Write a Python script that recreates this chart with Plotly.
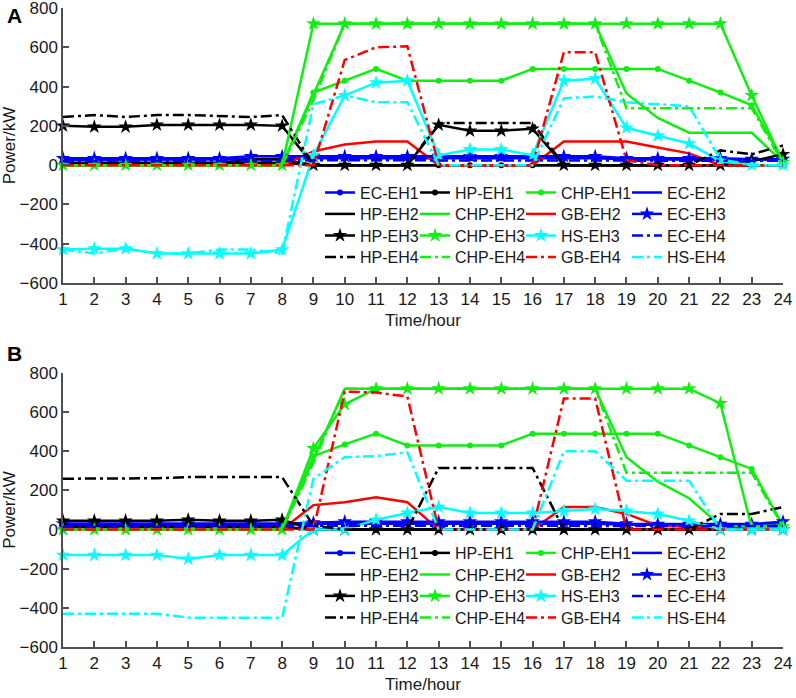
import plotly.graph_objects as go

hours = list(range(1, 25))

names = ['EC-EH1', 'HP-EH1', 'CHP-EH1', 'EC-EH2',
         'HP-EH2', 'CHP-EH2', 'GB-EH2', 'EC-EH3',
         'HP-EH3', 'CHP-EH3', 'HS-EH3', 'EC-EH4',
         'HP-EH4', 'CHP-EH4', 'GB-EH4', 'HS-EH4']

# ---- panel A (kW) ----
ec_eh1_a = [30, 30, 30, 30, 30, 30, 32, 32, 35, 35, 35, 35, 35, 35, 35, 35, 35, 35, 30, 30, 28, 28, 28, 28]
hp_eh1_a = [12, 12, 12, 12, 12, 12, 12, 12, 0, 0, 0, 0, 0, 0, 0, 0, 0, 0, 0, 0, 0, 0, 0, 0]
chp_eh1_a = [0, 0, 0, 0, 0, 0, 0, 0, 370, 430, 490, 430, 430, 430, 430, 490, 490, 490, 490, 490, 430, 370, 305, 20]
ec_eh2_a = [28, 28, 28, 28, 28, 28, 30, 30, 40, 40, 40, 40, 40, 40, 40, 40, 40, 40, 30, 30, 30, 30, 30, 30]
hp_eh2_a = [10, 10, 10, 10, 10, 10, 30, 30, 0, 0, 0, 0, 0, 0, 0, 0, 0, 0, 0, 0, 0, 0, 0, 0]
chp_eh2_a = [0, 0, 0, 0, 0, 0, 0, 0, 360, 720, 720, 720, 720, 720, 720, 720, 720, 720, 365, 240, 165, 165, 165, 15]
gb_eh2_a = [0, 0, 0, 0, 0, 0, 0, 0, 70, 105, 120, 120, 0, 0, 0, 0, 120, 120, 120, 90, 60, 0, 0, 0]
ec_eh3_a = [35, 35, 35, 35, 35, 35, 45, 45, 45, 45, 45, 45, 45, 45, 45, 45, 45, 45, 35, 35, 35, 35, 30, 30]
hp_eh3_a = [200, 195, 195, 205, 205, 205, 205, 200, 0, 0, 0, 0, 205, 175, 175, 185, 0, 0, 0, 0, 0, 0, 20, 55]
chp_eh3_a = [0, 0, 0, 0, 0, 0, 0, 0, 720, 720, 720, 720, 720, 720, 720, 720, 720, 720, 720, 720, 720, 720, 355, 15]
hs_eh3_a = [-430, -425, -425, -450, -450, -450, -450, -430, 50, 355, 420, 430, 50, 80, 80, 50, 430, 440, 190, 150, 110, 20, 0, 0]
ec_eh4_a = [20, 20, 20, 20, 20, 20, 22, 22, 25, 25, 25, 25, 25, 25, 25, 25, 25, 25, 22, 22, 22, 22, 22, 22]
hp_eh4_a = [245, 255, 245, 255, 255, 250, 245, 255, 0, 0, 0, 0, 215, 215, 215, 215, 0, 0, 0, 0, 0, 75, 55, 100]
chp_eh4_a = [0, 0, 0, 0, 0, 0, 0, 0, 330, 720, 720, 720, 720, 720, 720, 720, 720, 720, 290, 290, 290, 290, 290, 10]
gb_eh4_a = [0, 0, 0, 0, 0, 0, 0, 0, 0, 535, 600, 605, 0, 0, 0, 0, 575, 575, 25, 0, 0, 0, 0, 0]
hs_eh4_a = [-430, -450, -425, -450, -450, -430, -430, -450, 310, 355, 320, 320, 0, 0, 0, 0, 340, 350, 320, 310, 300, 30, 0, 0]

# ---- panel B ----
ec_eh1_b = [25, 25, 25, 25, 25, 25, 25, 25, 30, 30, 30, 30, 30, 30, 30, 30, 30, 30, 25, 25, 25, 25, 25, 25]
hp_eh1_b = [10, 10, 10, 10, 10, 10, 10, 10, 0, 0, 0, 0, 0, 0, 0, 0, 0, 0, 0, 0, 0, 0, 0, 0]
chp_eh1_b = [0, 0, 0, 0, 0, 0, 0, 0, 375, 435, 490, 430, 430, 430, 430, 490, 490, 490, 490, 490, 430, 370, 310, 20]
ec_eh2_b = [30, 30, 30, 30, 30, 30, 30, 30, 35, 35, 35, 35, 35, 35, 35, 35, 35, 35, 25, 25, 25, 25, 25, 25]
hp_eh2_b = [15, 15, 15, 15, 15, 15, 15, 15, 0, 0, 0, 0, 0, 0, 0, 0, 0, 0, 0, 0, 0, 0, 0, 0]
chp_eh2_b = [0, 0, 0, 0, 0, 0, 0, 0, 360, 720, 720, 720, 720, 720, 720, 720, 720, 720, 370, 245, 160, 20, 20, 20]
gb_eh2_b = [0, 0, 0, 0, 0, 0, 0, 0, 125, 140, 165, 140, 0, 0, 0, 0, 115, 115, 80, 20, 15, 10, 5, 0]
ec_eh3_b = [30, 30, 30, 30, 30, 30, 30, 30, 35, 40, 40, 40, 40, 40, 40, 40, 40, 40, 30, 28, 28, 28, 28, 40]
hp_eh3_b = [45, 45, 45, 45, 50, 45, 45, 50, 0, 0, 0, 0, 0, 0, 0, 0, 0, 0, 0, 0, 0, 0, 0, 0]
chp_eh3_b = [0, 0, 0, 0, 0, 0, 0, 0, 415, 640, 720, 720, 720, 720, 720, 720, 720, 720, 720, 720, 720, 645, 10, 15]
hs_eh3_b = [-130, -130, -130, -130, -150, -130, -130, -130, 0, 0, 50, 85, 115, 85, 85, 85, 95, 105, 95, 80, 45, 0, 0, 0]
ec_eh4_b = [15, 15, 15, 15, 15, 15, 15, 15, 20, 20, 20, 20, 20, 20, 20, 20, 20, 20, 18, 18, 18, 18, 18, 18]
hp_eh4_b = [260, 260, 260, 262, 268, 268, 268, 268, 20, 0, 0, 0, 315, 315, 315, 315, 0, 0, 0, 0, 0, 80, 80, 115]
chp_eh4_b = [0, 0, 0, 0, 0, 0, 0, 0, 340, 720, 720, 720, 720, 720, 720, 720, 720, 720, 290, 290, 290, 290, 290, 15]
gb_eh4_b = [0, 0, 0, 0, 0, 0, 0, 0, 0, 705, 700, 680, 0, 0, 0, 0, 670, 670, 0, 0, 0, 0, 0, 0]
hs_eh4_b = [-430, -430, -430, -430, -450, -450, -450, -450, 260, 370, 375, 395, 0, 0, 0, 0, 400, 400, 250, 250, 250, 0, 0, 0]

series_a = [ec_eh1_a, hp_eh1_a, chp_eh1_a, ec_eh2_a, hp_eh2_a, chp_eh2_a, gb_eh2_a, ec_eh3_a,
            hp_eh3_a, chp_eh3_a, hs_eh3_a, ec_eh4_a, hp_eh4_a, chp_eh4_a, gb_eh4_a, hs_eh4_a]
series_b = [ec_eh1_b, hp_eh1_b, chp_eh1_b, ec_eh2_b, hp_eh2_b, chp_eh2_b, gb_eh2_b, ec_eh3_b,
            hp_eh3_b, chp_eh3_b, hs_eh3_b, ec_eh4_b, hp_eh4_b, chp_eh4_b, gb_eh4_b, hs_eh4_b]

BLUE, BLACK, GREEN, RED, CYAN = '#0000FF', '#000000', '#11EE11', '#FF0000', '#00FFFF'
DASHDOT = '11px,4px,3px,4px'

styles = {
    'EC-EH1': (BLUE, 'solid', 'circle'),
    'HP-EH1': (BLACK, 'solid', 'circle'),
    'CHP-EH1': (GREEN, 'solid', 'circle'),
    'EC-EH2': (BLUE, 'solid', None),
    'HP-EH2': (BLACK, 'solid', None),
    'CHP-EH2': (GREEN, 'solid', None),
    'GB-EH2': (RED, 'solid', None),
    'EC-EH3': (BLUE, 'solid', 'star'),
    'HP-EH3': (BLACK, 'solid', 'star'),
    'CHP-EH3': (GREEN, 'solid', 'star'),
    'HS-EH3': (CYAN, 'solid', 'star'),
    'EC-EH4': (BLUE, DASHDOT, None),
    'HP-EH4': (BLACK, DASHDOT, None),
    'CHP-EH4': (GREEN, DASHDOT, None),
    'GB-EH4': (RED, DASHDOT, None),
    'HS-EH4': (CYAN, DASHDOT, None),
}

# spacing of the four legend columns (plotly adds 45px of symbol + gaps)
col_widths = [50, 61, 61, 60]

W, H = 796, 698
ML, MR, MT, MB = 63, 13, 8, 51
PW, PH = W - ML - MR, H - MT - MB


def px_x(p):
    return (p - ML) / PW


def px_y(p):
    return (H - MB - p) / PH


def legend_id(n):
    return 'legend' if n == 1 else 'legend%d' % n


fig = go.Figure()
for k, name in enumerate(names):
    color, dash, symbol = styles[name]
    row, col = divmod(k, 4)
    for panel, ys in enumerate((series_a[k], series_b[k])):
        fig.add_trace(go.Scatter(
            x=hours, y=ys, name=name,
            mode='lines+markers' if symbol else 'lines',
            line=dict(color=color, width=2.5, dash=dash),
            marker=dict(symbol=symbol or 'circle', size=11 if symbol == 'star' else 6,
                        color=color, line=dict(width=0)),
            xaxis='x' if panel == 0 else 'x2',
            yaxis='y' if panel == 0 else 'y2',
            legend=legend_id(panel * 4 + row + 1),
            legendwidth=col_widths[col],
            cliponaxis=False,
        ))

FAMILY = 'Arial, Liberation Sans, sans-serif'
font = dict(family=FAMILY, size=17, color='#1a1a1a')
axis_common = dict(
    showline=True, linecolor='#505050', linewidth=1.5,
    ticks='inside', ticklen=6, tickwidth=1.5, tickcolor='#505050',
    showgrid=False, zeroline=False, mirror=False, automargin=False,
    ticklabeloverflow='allow',
    tickfont=dict(family=FAMILY, size=17, color='#1a1a1a'),
)
xaxis_common = dict(axis_common, range=[1, 24], tickmode='linear', tick0=1, dtick=1,
                    title=dict(text='Time/hour', font=font, standoff=6))
yaxis_common = dict(axis_common, range=[-600, 800], tickmode='linear', tick0=-600, dtick=200,
                    title=dict(text='Power/kW', font=font, standoff=4))

top_dom = [px_y(283), 1.0]
bot_dom = [0.0, px_y(373)]

layout = dict(
    width=W, height=H,
    margin=dict(l=ML, r=MR, t=MT, b=MB, autoexpand=False),
    paper_bgcolor='white', plot_bgcolor='white',
    font=font,
    xaxis=dict(xaxis_common, domain=[0, 1], anchor='y'),
    yaxis=dict(yaxis_common, domain=top_dom, anchor='x'),
    xaxis2=dict(xaxis_common, domain=[0, 1], anchor='y2'),
    yaxis2=dict(yaxis_common, domain=bot_dom, anchor='x2'),
    annotations=[
        dict(text='<b>A</b>', x=px_x(14), y=px_y(16), xref='paper', yref='paper',
             xanchor='center', yanchor='middle',
             showarrow=False, font=dict(family=FAMILY, size=21, color='black')),
        dict(text='<b>B</b>', x=px_x(14), y=px_y(353), xref='paper', yref='paper',
             xanchor='center', yanchor='middle',
             showarrow=False, font=dict(family=FAMILY, size=21, color='black')),
    ],
)

row_y = [[192.5, 214, 235.5, 257], [553, 574.5, 596, 617.5]]
for panel in range(2):
    for row in range(4):
        n = panel * 4 + row + 1
        layout[legend_id(n)] = dict(
            orientation='h', x=px_x(360 - 40), y=px_y(row_y[panel][row]),
            xanchor='left', yanchor='middle',
            bgcolor='rgba(0,0,0,0)', borderwidth=0,
            font=dict(family=FAMILY, size=16, color='#1a1a1a'),
            itemwidth=30, tracegroupgap=0,
        )

fig.update_layout(**layout)
# drop the browser's default 8px page margin so the figure fills the window
fig.write_html('out.html', config={'displayModeBar': False},
               post_script="document.body.style.margin='0';")
